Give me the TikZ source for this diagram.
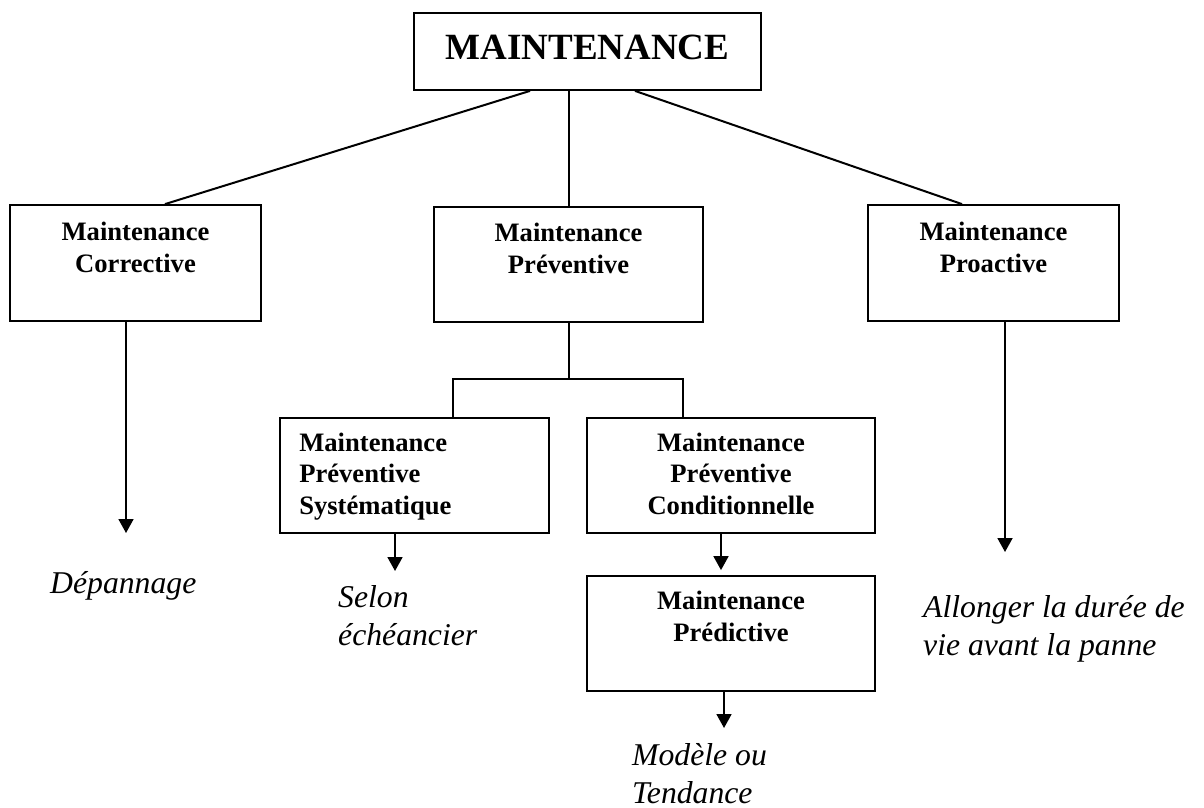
\documentclass[tikz,border=0pt]{standalone}
\usepackage{fontspec}
\setmainfont{Liberation Serif}
\usetikzlibrary{arrows.meta}

\tikzset{
  box/.style={draw, line width=1.8pt, inner sep=0pt},
  btxt/.style={font=\bfseries\fontsize{26.6}{31.5}\selectfont, align=center, inner sep=0pt, anchor=base},
  itxt/.style={font=\itshape\fontsize{31.7}{37.5}\selectfont, align=left, inner sep=0pt, anchor=base west},
  link/.style={line width=2pt},
  arr/.style={line width=1.8pt, -{Triangle[length=14pt,width=15pt]}}
}

\begin{document}
\begin{tikzpicture}[x=1pt,y=-1pt]
\useasboundingbox (0,0) rectangle (1204,808);
% boxes
\node[box, minimum width=347pt, minimum height=77pt, text depth=8pt,
      font=\bfseries\fontsize{37}{43}\selectfont] (maint) at (587.5,51.5) {MAINTENANCE};
\node[box, minimum width=251pt, minimum height=116pt] (corr) at (135.5,263) {};
\node[box, minimum width=269pt, minimum height=115pt] (prev) at (568.5,264.5) {};
\node[box, minimum width=251pt, minimum height=116pt] (proa) at (993.5,263) {};
\node[box, minimum width=269pt, minimum height=115pt] (syst) at (414.5,475.5) {};
\node[box, minimum width=288pt, minimum height=115pt] (cond) at (731,475.5) {};
\node[box, minimum width=288pt, minimum height=115pt] (pred) at (731,633.5) {};
% box texts (base = last line)
\node[btxt] (corr-t) at ([yshift=-68pt]corr.north) {Maintenance\\Corrective};
\node[btxt] (prev-t) at ([yshift=-67pt]prev.north) {Maintenance\\Préventive};
\node[btxt] (proa-t) at ([yshift=-68pt]proa.north) {Maintenance\\Proactive};
\node[btxt, align=left, anchor=base west] (syst-t) at ([xshift=20pt,yshift=-97pt]syst.north west)
  {Maintenance\\Préventive\\Systématique};
\node[btxt] (cond-t) at ([yshift=-97pt]cond.north) {Maintenance\\Préventive\\Conditionnelle};
\node[btxt] (pred-t) at ([yshift=-66pt]pred.north) {Maintenance\\Prédictive};
% outcomes
\coordinate (dep-a) at (126,533);
\node[itxt] (dep) at (50,593) {Dépannage};
\coordinate (sel-a) at (395,571);
\node[itxt] (sel) at (338,645) {Selon\\échéancier};
\coordinate (mod-a) at (724,728);
\node[itxt] (mod) at (632,803) {Modèle ou\\Tendance};
\coordinate (all-a) at (1005,552);
\node[itxt] (all) at (923,655) {Allonger la durée de\\vie avant la panne};
% connectors
\draw[link] ([xshift=-57.5pt]maint.south) -- ([xshift=29.5pt]corr.north);
\draw[link] (prev.north |- maint.south) -- (prev.north);
\draw[link] ([xshift=47.5pt]maint.south) -- ([xshift=-31.5pt]proa.north);
\coordinate (fork) at (568.5,379);
\draw[link] (prev.south) -- (fork);
\draw[link] ([xshift=38.5pt]syst.north) |- (fork) -| ([xshift=-48pt]cond.north);
% arrows
\draw[arr] ([xshift=-9.5pt]corr.south) -- (dep-a);
\draw[arr] ([xshift=-19.5pt]syst.south) -- (sel-a);
\draw[arr, shorten >=5pt] ([xshift=-10pt]cond.south) -- ([xshift=-10pt]pred.north);
\draw[arr] ([xshift=-7pt]pred.south) -- (mod-a);
\draw[arr] ([xshift=11.5pt]proa.south) -- (all-a);
\end{tikzpicture}
\end{document}
